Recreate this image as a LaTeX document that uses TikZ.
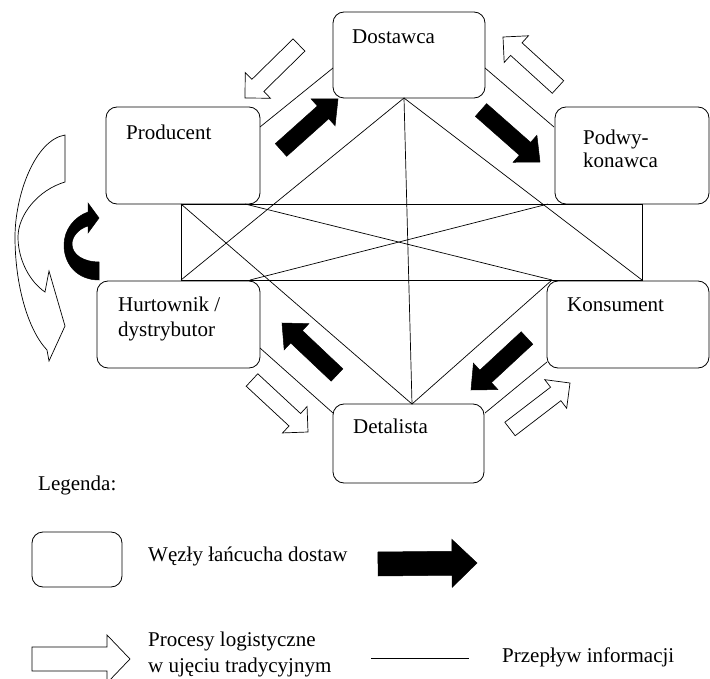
\documentclass[tikz,border=0pt]{standalone}
\usepackage{fontspec}
\setmainfont{Liberation Serif}
\usetikzlibrary{calc}
% #1 name, #2 style, #3 tail, #4 tip, #5 shaft half width, #6 head half width, #7 head length
\newcommand{\fatarrow}[7]{%
  \coordinate (#1-t) at (#3);
  \coordinate (#1-p) at (#4);
  \coordinate (#1-b) at ($(#1-p)!#7!(#1-t)$);
  \path[#2] ($(#1-t)!#5!90:(#1-p)$) -- ($(#1-b)!#5!90:(#1-p)$) -- ($(#1-b)!#6!90:(#1-p)$)
    -- (#1-p) -- ($(#1-b)!#6!-90:(#1-p)$) -- ($(#1-b)!#5!-90:(#1-p)$) -- ($(#1-t)!#5!-90:(#1-p)$) -- cycle;
}
\tikzset{
  nodebox/.style={draw, rounded corners=11pt, line width=0.8pt, inner sep=0pt},
  lbl/.style={anchor=base west, inner sep=0pt, font=\fontsize{21}{25}\selectfont},
  info/.style={draw, line width=0.7pt},
  blackarr/.style={fill=black, draw=black, line width=0.5pt, line join=miter},
  whitearr/.style={fill=white, draw=black, line width=0.7pt, line join=miter},
}
\begin{document}
\begin{tikzpicture}[x=1pt, y=-1pt]
\useasboundingbox (0,0) rectangle (710,679);

% nodes of the supply chain
\node[nodebox, minimum width=152pt, minimum height=86pt] (dost) at (409,55) {};
\node[nodebox, minimum width=154pt, minimum height=97pt] (prod) at (183,155.5) {};
\node[nodebox, minimum width=154pt, minimum height=97pt] (podw) at (632,155.5) {};
\node[nodebox, minimum width=163pt, minimum height=87pt] (hurt) at (178.5,324.5) {};
\node[nodebox, minimum width=162pt, minimum height=87pt] (kons) at (628,324.5) {};
\node[nodebox, minimum width=151pt, minimum height=79pt] (det) at (408.5,443.5) {};

% labels
\node[lbl] (tdost) at (352,44) {Dostawca};
\node[lbl] (tprod) at (126,140) {Producent};
\node[lbl] (tpodw1) at (583,145) {Podwy-};
\node[lbl] (tpodw2) at (583,168) {konawca};
\node[lbl] (thurt1) at (118,312) {Hurtownik /};
\node[lbl] (thurt2) at (118,336) {dystrybutor};
\node[lbl] (tkons) at (567,312) {Konsument};
\node[lbl] (tdet) at (353,433) {Detalista};

% information flow coordinates
\coordinate (pd1) at (260,127);  \coordinate (pd2) at (333,68);
\coordinate (dp1) at (485,68);   \coordinate (dp2) at (554,127);
\coordinate (hd1) at (260,348);  \coordinate (hd2) at (333,413);
\coordinate (dk1) at (485,413);  \coordinate (dk2) at (547,362);
\coordinate (rTL) at (181,204);  \coordinate (rBR) at (642,280);
\coordinate (rBL) at (181,280);
\coordinate (prodC) at (245,204); \coordinate (konsC) at (552,280);
\coordinate (hurtC) at (250,280); \coordinate (podwC) at (548,204);
\coordinate (dostB) at (404,98);  \coordinate (detT) at (412,404);

\draw[info] (pd1) -- (pd2);
\draw[info] (dp1) -- (dp2);
\draw[info] (hd1) -- (hd2);
\draw[info] (dk1) -- (dk2);
\draw[info] (rTL) rectangle (rBR);
\draw[info] (prodC) -- (konsC);
\draw[info] (hurtC) -- (podwC);
\draw[info] (rTL) -- (detT);
\draw[info] (dostB) -- (rBL);
\draw[info] (dostB) -- (rBR);
\draw[info] (dostB) -- (detT);
\draw[info] (detT) -- (konsC);

% black arrows
\fatarrow{b1}{blackarr}{281,150}{338,99}{8.5pt}{18pt}{20pt}
\fatarrow{b2}{blackarr}{481,110}{540,162}{8.5pt}{18pt}{20pt}
\fatarrow{b3}{blackarr}{527,338}{471,390}{8.5pt}{18pt}{20pt}
\fatarrow{b4}{blackarr}{337,375}{282,323}{8.5pt}{18pt}{20pt}

% white arrows
\fatarrow{w1}{whitearr}{299,45}{245,98}{8.5pt}{18pt}{18pt}
\fatarrow{w2}{whitearr}{558,87}{503,37}{8.5pt}{18pt}{18pt}
\fatarrow{w3}{whitearr}{252,380}{308,432}{8.5pt}{18pt}{18pt}
\fatarrow{w4}{whitearr}{510,429}{570,383}{8.5pt}{18pt}{18pt}

% curved white arrow (left)
\path[whitearr] (65,135) -- (65,182)
  .. controls (38,190) and (18,215) .. (18,237)
  .. controls (18,260) and (30,282) .. (45,292)
  -- (49,271) -- (65,326) -- (49,361) -- (47,350)
  .. controls (28,330) and (15,285) .. (15,237)
  .. controls (15,195) and (35,140) .. (65,135) -- cycle;

% curved black arrow (left)
\path[blackarr] (99,280)
  .. controls (78,280) and (64,265) .. (64,245)
  .. controls (64,230) and (74,217) .. (88,212)
  -- (88,203) -- (99,218) -- (88,233) -- (88,226)
  .. controls (78,229) and (72,237) .. (72,244)
  .. controls (72,255) and (84,262) .. (99,262) -- cycle;

% legend
\node[lbl] (tleg) at (38,490) {Legenda:};
\node[nodebox, minimum width=90pt, minimum height=55pt] (legbox) at (77,559.5) {};
\node[lbl] (tleg1) at (148,561) {Węzły łańcucha dostaw};
\fatarrow{lb}{blackarr}{378,564}{477,563}{12pt}{24pt}{25pt}
\fatarrow{lw}{whitearr}{32,659}{130,659}{12pt}{24pt}{23pt}
\node[lbl] (tleg2) at (148,646) {Procesy logistyczne};
\node[lbl] (tleg3) at (148,672) {w ujęciu tradycyjnym};
\coordinate (ll1) at (371,658); \coordinate (ll2) at (469,658);
\draw[info] (ll1) -- (ll2);
\node[lbl] (tleg4) at (502,662) {Przepływ informacji};
\end{tikzpicture}
\end{document}
